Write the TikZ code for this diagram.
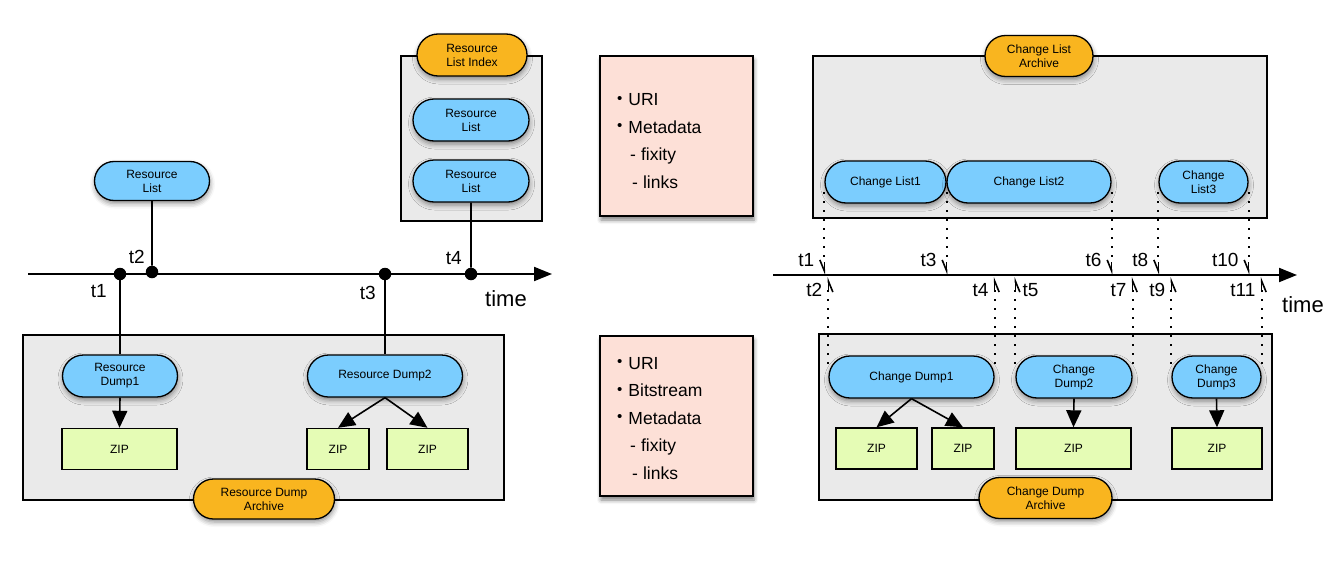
\documentclass[tikz,border=0pt]{standalone}
\usepackage{fontspec}
\setmainfont{Liberation Sans}
\usetikzlibrary{arrows.meta,shadows.blur,calc,shapes.misc}
\definecolor{pillblue}{HTML}{7BCDFE}
\definecolor{pillorange}{HTML}{F9B51F}
\definecolor{archgray}{HTML}{EAEAEA}
\definecolor{notepink}{HTML}{FDE0D7}
\definecolor{zipgreen}{HTML}{E5FCB5}
\newcommand{\notebullet}{{\fontsize{15}{15}\selectfont\raisebox{2.5pt}{•}}\hspace*{6pt}}
\tikzset{
  softshadow/.style={blur shadow={shadow xshift=0.5pt, shadow yshift=-3pt, shadow blur radius=5pt, shadow opacity=45}},
  pill/.style={rounded rectangle, draw=black, line width=1.3pt, inner sep=0pt, align=center, font=\fontsize{12}{14}\selectfont, softshadow},
  bpill/.style={pill, fill=pillblue},
  opill/.style={pill, fill=pillorange},
  archbox/.style={rectangle, draw=black, line width=1.6pt, fill=archgray, inner sep=0pt},
  notebox/.style={rectangle, draw=black, line width=1.3pt, fill=notepink, inner sep=0pt, blur shadow={shadow xshift=1pt, shadow yshift=-4pt, shadow blur radius=4pt, shadow opacity=50}},
  zipbox/.style={rectangle, draw=black, line width=1.4pt, fill=zipgreen, inner sep=0pt, font=\fontsize{12}{14}\selectfont},
  tdot/.style={circle, fill=black, inner sep=0pt, minimum size=12.5pt},
  tline/.style={line width=2pt, -{Triangle[length=18pt,width=14pt]}},
  link/.style={line width=1.6pt},
  flow/.style={line width=1.6pt, -{Triangle[length=17pt,width=15pt]}},
  dotline/.style={line width=1.8pt, dash pattern=on 1.5pt off 7.5pt},
  mkarrow/.style={line width=1.6pt, -{Straight Barb[right,length=11pt,width=9pt]}},
  tlab/.style={font=\fontsize{19}{19}\selectfont, inner sep=0pt},
  timelab/.style={font=\fontsize{22}{22}\selectfont, inner sep=0pt},
  notetext/.style={font=\fontsize{17.5}{27.5}\selectfont, align=left, inner sep=0pt, anchor=west},
}
\begin{document}
\begin{tikzpicture}[x=1pt,y=-1pt]
\useasboundingbox (0,0) rectangle (1344,570);

% ---------- containers ----------
\node[archbox, minimum width=481pt, minimum height=165pt] (rdbox) at (263.5,417.5) {};
\node[archbox, minimum width=141pt, minimum height=165pt] (ribox) at (471.5,138.5) {};
\node[archbox, minimum width=454pt, minimum height=162pt] (clbox) at (1040,137) {};
\node[archbox, minimum width=453pt, minimum height=166pt] (cdbox) at (1045.5,417) {};

% ---------- notes ----------
\node[notebox, minimum width=153pt, minimum height=160pt] (note1) at (676.5,136) {};
\node[notetext] (note1txt) at (617,141) {\notebullet URI\\ \notebullet Metadata\\ \hspace*{13pt}-\hspace*{5pt}fixity\\ \hspace*{15pt}-\hspace*{5pt}links};
\node[notebox, minimum width=153pt, minimum height=160pt] (note2) at (676.5,416) {};
\node[notetext] (note2txt) at (617,418.5) {\notebullet URI\\ \notebullet Bitstream\\ \notebullet Metadata\\ \hspace*{13pt}-\hspace*{5pt}fixity\\ \hspace*{15pt}-\hspace*{5pt}links};

% ---------- left side nodes ----------
\node[bpill, minimum width=115pt, minimum height=39pt] (rl0) at (152,181) {Resource\\List};
\node[bpill, minimum width=116pt, minimum height=42pt] (rl1) at (471,120) {Resource\\List};
\node[bpill, minimum width=116pt, minimum height=42pt] (rl2) at (471,181) {Resource\\List};
\node[opill, minimum width=110pt, minimum height=42pt] (rli) at (472,55) {Resource\\List Index};
\node[bpill, minimum width=115pt, minimum height=42pt] (rd1) at (120,376) {Resource\\Dump1};
\node[bpill, minimum width=155pt, minimum height=42pt] (rd2) at (385,376) {Resource Dump2};
\node[zipbox, minimum width=115pt, minimum height=41pt] (z1) at (119.5,449) {ZIP};
\node[zipbox, minimum width=62pt, minimum height=41pt] (z2a) at (338,449) {ZIP};
\node[zipbox, minimum width=81pt, minimum height=41pt] (z2b) at (427.5,449) {ZIP};
\node[opill, minimum width=141pt, minimum height=40pt] (rda) at (264,499) {Resource Dump\\Archive};

\draw[flow] (rd1.south) -- (z1.north);
\draw[flow] (rd2.south) -- (z2a.north);
\draw[flow] (rd2.south) -- (z2b.north);

% ---------- left timeline ----------
\coordinate (L0) at (28,274);
\coordinate (L1) at (552,274);
\draw[tline] (L0) -- (L1);
\node[tdot] (d1) at (rd1.north |- L0) {};
\node[tdot] (d2) at ($(rl0.south |- L0)+(0,-2)$) {};
\node[tdot] (d3) at (rd2.north |- L0) {};
\node[tdot] (d4) at (rl2.south |- L0) {};
\draw[link] (rl0) -- (d2);
\draw[link] (d1) -- (rd1);
\draw[link] (d3) -- (rd2);
\draw[link] (rl2) -- (d4);
\node[tlab, anchor=east] (lt1) at ($(d1)+(-13,17)$) {t1};
\node[tlab, anchor=east] (lt2) at ($(d2)+(-7,-15)$) {t2};
\node[tlab, anchor=east] (lt3) at ($(d3)+(-9,19)$) {t3};
\node[tlab, anchor=east] (lt4) at ($(d4)+(-9,-16)$) {t4};
\node[timelab] (time1) at (506,299) {time};

% ---------- right side nodes ----------
\node[opill, minimum width=108pt, minimum height=41pt] (cla) at (1039,56) {Change List\\Archive};
\node[bpill, minimum width=121pt, minimum height=42pt] (cl1) at (885.5,182) {Change List1};
\node[bpill, minimum width=164pt, minimum height=42pt] (cl2) at (1029,182) {Change List2};
\node[bpill, minimum width=89pt, minimum height=42pt] (cl3) at (1203.5,182) {Change\\List3};
\node[bpill, minimum width=165pt, minimum height=42pt] (cd1) at (911.5,377) {Change Dump1};
\node[bpill, minimum width=116pt, minimum height=42pt] (cd2) at (1074,377) {Change\\Dump2};
\node[bpill, minimum width=89pt, minimum height=42pt] (cd3) at (1216.5,377) {Change\\Dump3};
\node[zipbox, minimum width=81pt, minimum height=41pt] (z3a) at (876.5,448.5) {ZIP};
\node[zipbox, minimum width=62pt, minimum height=41pt] (z3b) at (963,448.5) {ZIP};
\node[zipbox, minimum width=115pt, minimum height=41pt] (z3c) at (1073.5,448.5) {ZIP};
\node[zipbox, minimum width=90pt, minimum height=41pt] (z3d) at (1217,448.5) {ZIP};
\node[opill, minimum width=133pt, minimum height=41pt] (cda) at (1045.5,498) {Change Dump\\Archive};

\draw[flow] (cd1.south) -- (z3a.north);
\draw[flow] (cd1.south) -- (z3b.north);
\draw[flow] (cd2.south) -- (z3c.north);
\draw[flow] (cd3.south) -- (z3d.north);

% ---------- right timeline ----------
\coordinate (R0) at (773,275);
\coordinate (R1) at (1297,275);
\draw[tline] (R0) -- (R1);
\node[timelab] (time2) at (1303,305) {time};

\foreach \i/\nd/\an in {1/cl1/west,3/cl1/east,6/cl2/east,8/cl3/west,10/cl3/east}{
  \coordinate (up\i) at ($(\nd.\an)+(0,10)$);
  \coordinate (m\i) at (up\i |- R0);
  \coordinate (s\i) at ($(m\i)+(0,-13)$);
  \draw[dotline] (up\i) -- (s\i);
  \draw[mkarrow] (s\i) -- (m\i);
  \node[tlab, anchor=east] (lt\i) at ($(m\i)+(-10,-15)$) {t\i};
}
\foreach \i/\nd/\an in {2/cd1/west,4/cd1/east,5/cd2/west,7/cd2/east,9/cd3/west,11/cd3/east}{
  \coordinate (dn\i) at ($(\nd.\an)+(0,-12)$);
  \coordinate (m\i) at (dn\i |- R0);
  \coordinate (tip\i) at ($(m\i)+(0,2)$);
  \coordinate (s\i) at ($(m\i)+(0,15)$);
  \draw[dotline] (s\i) -- (dn\i);
  \draw[mkarrow] (s\i) -- (tip\i);
}
\foreach \i in {2,4,7,9,11}{
  \node[tlab, anchor=east] (lt\i) at ($(m\i)+(-6,15)$) {t\i};
}
\node[tlab, anchor=west] (lt5) at ($(m5)+(7,15)$) {t5};
\end{tikzpicture}
\end{document}
